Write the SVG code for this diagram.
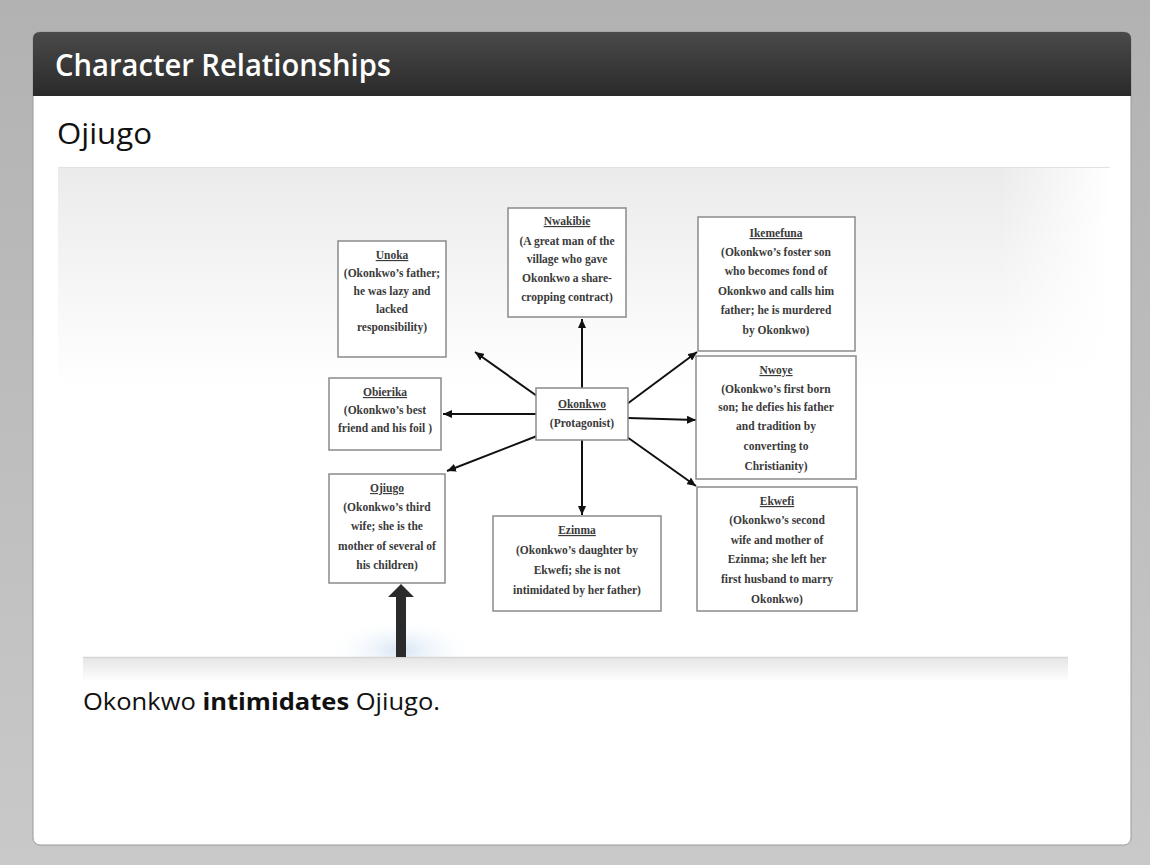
<svg xmlns="http://www.w3.org/2000/svg" width="1150" height="865" viewBox="0 0 1150 865">
<defs>
<linearGradient id="bg" x1="0" y1="0" x2="0" y2="1"><stop offset="0" stop-color="#b2b2b2"/><stop offset="1" stop-color="#c9c9c9"/></linearGradient>
<linearGradient id="hdr" x1="0" y1="0" x2="0" y2="1"><stop offset="0" stop-color="#4a4a4a"/><stop offset="1" stop-color="#2a2a2a"/></linearGradient>
<linearGradient id="img" x1="0" y1="0" x2="0" y2="1"><stop offset="0" stop-color="#ebebeb"/><stop offset="0.45" stop-color="#ffffff"/><stop offset="1" stop-color="#ffffff"/></linearGradient>
<linearGradient id="fadeR" x1="0" y1="0" x2="1" y2="0"><stop offset="0" stop-color="#fff" stop-opacity="0"/><stop offset="1" stop-color="#fff" stop-opacity="1"/></linearGradient>
<linearGradient id="shadow" x1="0" y1="0" x2="0" y2="1"><stop offset="0" stop-color="#e6e6e6"/><stop offset="1" stop-color="#ffffff"/></linearGradient>
<radialGradient id="glow"><stop offset="0" stop-color="#d6e5f4"/><stop offset="1" stop-color="#ffffff" stop-opacity="0"/></radialGradient>
<marker id="ah" markerWidth="9" markerHeight="8" refX="9" refY="4" orient="auto" markerUnits="userSpaceOnUse"><path d="M0,0 L9,4 L0,8 z" fill="#111"/></marker>
</defs>
<style>
.box{fill:#fff;stroke:#8a8a8a;stroke-width:1.5}
.t{font-family:"Liberation Serif","Times New Roman",serif;font-weight:bold;font-size:11.5px;fill:#3a3a3a;text-anchor:middle}
.u{text-decoration:underline}
.c{stroke:#111;stroke-width:2;fill:none;marker-end:url(#ah)}
</style>
<rect width="1150" height="865" fill="url(#bg)"/>
<rect x="33" y="32" width="1098" height="813" rx="7" fill="#fff" stroke="#9a9a9a" stroke-width="1"/>
<path d="M33,39 Q33,32 40,32 L1124,32 Q1131,32 1131,39 L1131,96 L33,96 Z" fill="url(#hdr)"/>
<text x="55" y="76" font-family="'Open Sans','Noto Sans',sans-serif" font-weight="600" font-size="30" fill="#fff" textLength="336" lengthAdjust="spacingAndGlyphs">Character Relationships</text>
<text x="57" y="144" font-family="'Open Sans','Noto Sans',sans-serif" font-size="29" fill="#111" textLength="95" lengthAdjust="spacingAndGlyphs">Ojiugo</text>
<g id="image-bg">
<rect x="58" y="167" width="1052" height="490" fill="url(#img)"/>
<rect x="1000" y="167" width="110" height="490" fill="url(#fadeR)"/>
<line x1="58" y1="167.5" x2="1110" y2="167.5" stroke="#e2e2e2"/>
<ellipse cx="401" cy="650" rx="75" ry="32" fill="url(#glow)"/>
<rect x="83" y="658" width="985" height="24" fill="url(#shadow)"/>
<line x1="83" y1="657.5" x2="1068" y2="657.5" stroke="#d6d6d6" stroke-width="1.5"/>
</g>
<g id="connectors">
<path class="c" d="M582,388 L582,319"/>
<path class="c" d="M537,396 L475,352"/>
<path class="c" d="M536,414 L443,414"/>
<path class="c" d="M537,436 L447,471"/>
<path class="c" d="M582,440 L582,515"/>
<path class="c" d="M627,404 L697,352"/>
<path class="c" d="M628,418 L696,420"/>
<path class="c" d="M627,437 L696,486"/>
<path d="M396,657 L396,597 L388,597 L401,584 L414,597 L406,597 L406,657 Z" fill="#2b2b2b"/>
</g>
<g id="unoka">
<rect class="box" x="338" y="241" width="108" height="116"/>
<text class="t"><tspan class="u" x="392" y="259">Unoka</tspan><tspan x="392" y="277">(Okonkwo’s father;</tspan><tspan x="392" y="295">he was lazy and</tspan><tspan x="392" y="313">lacked</tspan><tspan x="392" y="331">responsibility)</tspan></text>
</g>
<g id="nwakibie">
<rect class="box" x="508" y="208" width="118" height="109"/>
<text class="t"><tspan class="u" x="567" y="225">Nwakibie</tspan><tspan x="567" y="245">(A great man of  the</tspan><tspan x="567" y="263">village who gave</tspan><tspan x="567" y="282">Okonkwo a share-</tspan><tspan x="567" y="301">cropping contract)</tspan></text>
</g>
<g id="ikemefuna">
<rect class="box" x="698" y="217" width="157" height="134"/>
<text class="t"><tspan class="u" x="776" y="237">Ikemefuna</tspan><tspan x="776" y="256">(Okonkwo’s foster son</tspan><tspan x="776" y="275">who becomes fond of</tspan><tspan x="776" y="295">Okonkwo and calls him</tspan><tspan x="776" y="314">father; he is murdered</tspan><tspan x="776" y="334">by Okonkwo)</tspan></text>
</g>
<g id="obierika">
<rect class="box" x="329" y="378" width="112" height="72"/>
<text class="t"><tspan class="u" x="385" y="396">Obierika</tspan><tspan x="385" y="414">(Okonkwo’s best</tspan><tspan x="385" y="432">friend and his foil )</tspan></text>
</g>
<g id="okonkwo">
<rect class="box" x="536" y="388" width="92" height="52"/>
<text class="t"><tspan class="u" x="582" y="408">Okonkwo</tspan><tspan x="582" y="427">(Protagonist)</tspan></text>
</g>
<g id="nwoye">
<rect class="box" x="696" y="356" width="160" height="123"/>
<text class="t"><tspan class="u" x="776" y="374">Nwoye</tspan><tspan x="776" y="393">(Okonkwo’s first born</tspan><tspan x="776" y="411">son; he defies his father</tspan><tspan x="776" y="430">and tradition by</tspan><tspan x="776" y="450">converting to</tspan><tspan x="776" y="470">Christianity)</tspan></text>
</g>
<g id="ojiugo">
<rect class="box" x="329" y="474" width="116" height="109"/>
<text class="t"><tspan class="u" x="387" y="492">Ojiugo</tspan><tspan x="387" y="511">(Okonkwo’s third</tspan><tspan x="387" y="530">wife; she is the</tspan><tspan x="387" y="550">mother of  several of</tspan><tspan x="387" y="569">his children)</tspan></text>
</g>
<g id="ezinma">
<rect class="box" x="493" y="516" width="168" height="95"/>
<text class="t"><tspan class="u" x="577" y="534">Ezinma</tspan><tspan x="577" y="554">(Okonkwo’s daughter by</tspan><tspan x="577" y="574">Ekwefi; she is not</tspan><tspan x="577" y="594">intimidated by her father)</tspan></text>
</g>
<g id="ekwefi">
<rect class="box" x="697" y="487" width="160" height="124"/>
<text class="t"><tspan class="u" x="777" y="505">Ekwefi</tspan><tspan x="777" y="524">(Okonkwo’s second</tspan><tspan x="777" y="544">wife and mother of</tspan><tspan x="777" y="563">Ezinma; she left her</tspan><tspan x="777" y="583">first husband to marry</tspan><tspan x="777" y="603">Okonkwo)</tspan></text>
</g>
<text x="83" y="710" font-family="'Open Sans','Noto Sans',sans-serif" font-size="24" fill="#111" textLength="357" lengthAdjust="spacingAndGlyphs">Okonkwo <tspan font-weight="bold">intimidates</tspan> Ojiugo.</text>
</svg>
